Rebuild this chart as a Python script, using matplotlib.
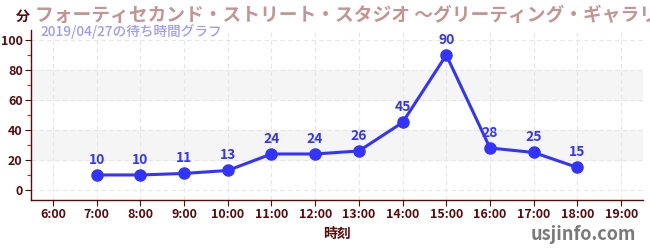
import matplotlib
matplotlib.use('Agg')
import matplotlib.pyplot as plt

plt.rcParams['font.family'] = ['Noto Sans CJK JP', 'DejaVu Sans']

# 待ち時間データ
hours = [7, 8, 9, 10, 11, 12, 13, 14, 15, 16, 17, 18]
waits = [10, 10, 11, 13, 24, 24, 26, 45, 90, 28, 25, 15]
tick_hours = list(range(6, 20))
tick_labels = ['%d:00' % h for h in tick_hours]

title = 'フォーティセカンド・ストリート・スタジオ ～グリーティング・ギャラリー～'
subtitle = '2019/04/27の待ち時間グラフ'

dark = '#5a0a0a'
blue = '#3333ff'

fig = plt.figure(figsize=(6.5, 2.5), dpi=100)
ax = fig.add_axes([31/650, 50/250, 612/650, 170/250])

ax.set_xlim(5.5, 19.5)
ax.set_ylim(-6.7, 106.7)

# 背景の帯
for lo, hi in [(20, 40), (60, 80)]:
    ax.axhspan(lo, hi, color='#f5f5f5', zorder=0)

ax.set_xticks(tick_hours)
ax.set_xticklabels(tick_labels)
ax.set_yticks([0, 20, 40, 60, 80, 100])
ax.set_yticks([10, 30, 50, 70, 90], minor=True)
ax.grid(True, which='major', color='#e6e6e6', linestyle=(0, (4, 3)), linewidth=0.8)

ax.tick_params(axis='both', which='major', colors=dark, labelsize=9, length=4, width=0.8, pad=2)
ax.tick_params(axis='y', which='minor', colors='#dd2222', length=3, width=0.8)
for lab in ax.get_xticklabels() + ax.get_yticklabels():
    lab.set_color(dark)
    lab.set_fontweight('bold')

for s in ['top', 'right']:
    ax.spines[s].set_visible(False)
for s in ['left', 'bottom']:
    ax.spines[s].set_color(dark)
    ax.spines[s].set_linewidth(1.0)

ax.plot(hours, waits, color=blue, linewidth=2.2, marker='o', markersize=8, zorder=3)
for h, w in zip(hours, waits):
    ax.annotate(str(w), (h, w), xytext=(0, 6), textcoords='offset points',
                ha='center', va='bottom', color=blue, fontsize=10, fontweight='bold', zorder=4)

ax.set_xlabel('時刻', color=dark, fontsize=10, fontweight='bold', labelpad=4)

fig.text(16/650, 1 - 17/250, '分', color=dark, fontsize=10, fontweight='bold', va='center')
fig.text(35/650, 1 - 15/250, title, color='#c49494', fontsize=13.5, fontweight='bold', va='center')
fig.text(40/650, 1 - 32/250, subtitle, color='#9a9aff', fontsize=9.8, fontweight='medium', va='center')
fig.text(636/650, 1 - 234/250, 'usjinfo.com', color='#7a7a7a', fontsize=13, fontweight='bold',
         ha='right', va='center')

fig.savefig('out.png', dpi=100)
